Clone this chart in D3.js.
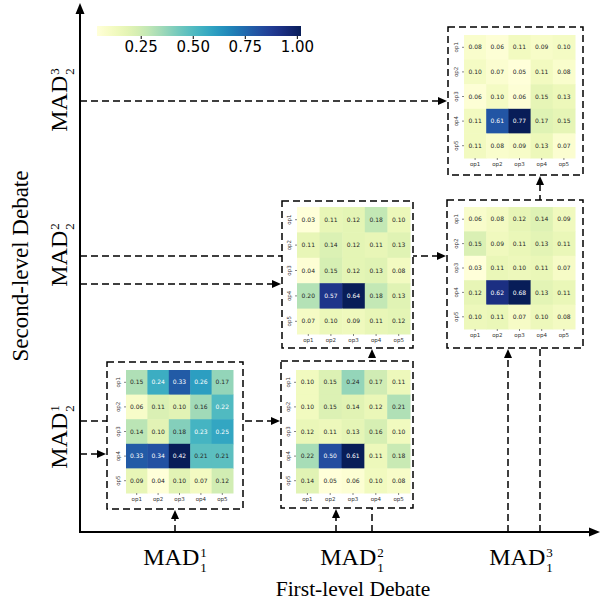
<!DOCTYPE html>
<html>
<head>
<meta charset="utf-8">
<script src="https://cdn.jsdelivr.net/npm/d3@7"></script>
<style>body{margin:0;background:#fff}</style>
</head>
<body>
<script>
// Chart size
const width = 600;
const height = 602;

// Data
const ops = ['op1', 'op2', 'op3', 'op4', 'op5'];

// rows = op1..op5, columns = op1..op5
const mad1_1 = [
  [0.15, 0.24, 0.33, 0.26, 0.17],
  [0.06, 0.11, 0.10, 0.16, 0.22],
  [0.14, 0.10, 0.18, 0.23, 0.25],
  [0.33, 0.34, 0.42, 0.21, 0.21],
  [0.09, 0.04, 0.10, 0.07, 0.12]
];
const mad2_1 = [
  [0.10, 0.15, 0.24, 0.17, 0.11],
  [0.10, 0.15, 0.14, 0.12, 0.21],
  [0.12, 0.11, 0.13, 0.16, 0.10],
  [0.22, 0.50, 0.61, 0.11, 0.18],
  [0.14, 0.05, 0.06, 0.10, 0.08]
];
const mad2_2 = [
  [0.03, 0.11, 0.12, 0.18, 0.10],
  [0.11, 0.14, 0.12, 0.11, 0.13],
  [0.04, 0.15, 0.12, 0.13, 0.08],
  [0.20, 0.57, 0.64, 0.18, 0.13],
  [0.07, 0.10, 0.09, 0.11, 0.12]
];
const mad3_2 = [
  [0.06, 0.08, 0.12, 0.14, 0.09],
  [0.15, 0.09, 0.11, 0.13, 0.11],
  [0.03, 0.11, 0.10, 0.11, 0.07],
  [0.12, 0.62, 0.68, 0.13, 0.11],
  [0.10, 0.11, 0.07, 0.10, 0.08]
];
const mad3_3 = [
  [0.08, 0.06, 0.11, 0.09, 0.10],
  [0.10, 0.07, 0.05, 0.11, 0.08],
  [0.06, 0.10, 0.06, 0.15, 0.13],
  [0.11, 0.61, 0.77, 0.17, 0.15],
  [0.11, 0.08, 0.09, 0.13, 0.07]
];

const colorbarDomain = [0.04, 1.02];
const colorbarTicks = [0.25, 0.50, 0.75, 1.00];

const levelIndex = ['1', '2', '3'];
const firstLevelTitle = 'First-level Debate';
const secondLevelTitle = 'Second-level Debate';

// Layout (pixel positions of each panel)
const panels = [
  { data: mad1_1, cells: [126, 370, 107, 123], box: [107, 362, 243, 509] },
  { data: mad2_1, cells: [296, 370, 114, 123], box: [281, 361, 413, 508] },
  { data: mad2_2, cells: [297, 207, 113, 127], box: [282, 201, 413, 348] },
  { data: mad3_2, cells: [464, 207, 111, 122], box: [447, 200, 583, 348] },
  { data: mad3_3, cells: [464, 35, 111, 123], box: [448, 27, 583, 175] }
];

const axisX = 80;
const axisY = 532;
const xLabelPos = [175, 352, 521];
const yLabelPos = [437, 255, 100];

// connectors: from y axis to a box edge, and from x axis to a box edge
const hLinks = [[101, 448], [256, 447], [284, 282], [421, 281], [454, 107]];
const vLinks = [[175, 509], [336, 508], [372, 348], [508, 348], [540, 175]];

const serif = '"Liberation Serif", "DejaVu Serif", serif';
const sans = '"DejaVu Sans", sans-serif';
const dash = '7,4';

const svg = d3.select('body')
  .append('svg')
  .attr('width', width)
  .attr('height', height);

// Dashed connectors (drawn first, panels cover them)
const links = svg.append('g');

function arrowHead(g, x, y, dir) {
  const L = 9, W = 4;
  let pts;
  if (dir === 'right') pts = [[x, y], [x - L, y - W], [x - L, y + W]];
  else pts = [[x, y], [x - W, y + L], [x + W, y + L]];
  g.append('path')
    .attr('d', d3.line()(pts) + 'Z')
    .attr('fill', '#000');
}

hLinks.forEach(([y, x1]) => {
  links.append('line')
    .attr('x1', axisX).attr('x2', x1 - 6)
    .attr('y1', y).attr('y2', y)
    .attr('stroke', '#000').attr('stroke-width', 1.5)
    .attr('stroke-dasharray', dash);
  arrowHead(links, x1 - 1, y, 'right');
});

vLinks.forEach(([x, y1]) => {
  links.append('line')
    .attr('x1', x).attr('x2', x)
    .attr('y1', axisY).attr('y2', y1 + 6)
    .attr('stroke', '#000').attr('stroke-width', 1.5)
    .attr('stroke-dasharray', dash);
  arrowHead(links, x, y1 + 1, 'up');
});

// Heatmaps
function luminance(c) {
  const rgb = d3.rgb(c);
  const f = v => {
    v /= 255;
    return v <= 0.03928 ? v / 12.92 : Math.pow((v + 0.055) / 1.055, 2.4);
  };
  return 0.2126 * f(rgb.r) + 0.7152 * f(rgb.g) + 0.0722 * f(rgb.b);
}

function drawHeatmap(p) {
  const g = svg.append('g');
  const [bx0, by0, bx1, by1] = p.box;
  g.append('rect')
    .attr('x', bx0).attr('y', by0)
    .attr('width', bx1 - bx0).attr('height', by1 - by0)
    .attr('fill', '#fff')
    .attr('stroke', '#000').attr('stroke-width', 1.5)
    .attr('stroke-dasharray', dash);

  const [cx, cy, cw, ch] = p.cells;
  const x = d3.scaleBand().domain(ops).range([cx, cx + cw]);
  const y = d3.scaleBand().domain(ops).range([cy, cy + ch]);
  const color = d3.scaleSequential(d3.interpolateYlGnBu)
    .domain(d3.extent(p.data.flat()));

  const cells = [];
  p.data.forEach((row, i) => row.forEach((v, j) => cells.push({ r: ops[i], c: ops[j], v })));

  g.selectAll('rect.cell')
    .data(cells)
    .enter()
    .append('rect')
    .attr('class', 'cell')
    .attr('x', d => x(d.c))
    .attr('y', d => y(d.r))
    .attr('width', x.bandwidth() + 0.5)
    .attr('height', y.bandwidth() + 0.5)
    .attr('fill', d => color(d.v));

  g.selectAll('text.annot')
    .data(cells)
    .enter()
    .append('text')
    .attr('class', 'annot')
    .attr('x', d => x(d.c) + x.bandwidth() / 2)
    .attr('y', d => y(d.r) + y.bandwidth() / 2)
    .attr('dy', '0.35em')
    .attr('text-anchor', 'middle')
    .attr('font-family', sans)
    .attr('font-size', 6)
    .attr('fill', d => luminance(color(d.v)) > 0.408 ? '#262626' : '#fff')
    .text(d => d.v.toFixed(2));

  const xAxis = g.append('g')
    .attr('transform', `translate(0,${cy + ch})`)
    .call(d3.axisBottom(x).tickSize(2).tickPadding(2));
  const yAxis = g.append('g')
    .attr('transform', `translate(${cx},0)`)
    .call(d3.axisLeft(y).tickSize(2).tickPadding(2));

  [xAxis, yAxis].forEach(a => {
    a.select('.domain').remove();
    a.selectAll('line').attr('stroke', '#333').attr('stroke-width', 0.6);
    a.selectAll('text')
      .attr('font-family', sans)
      .attr('font-size', 5.5)
      .attr('fill', '#333');
  });
  yAxis.selectAll('text')
    .attr('text-anchor', 'middle')
    .attr('x', null).attr('dy', null)
    .attr('transform', 'translate(-6,0) rotate(-90)');
}

panels.forEach(drawHeatmap);

// Main axes with arrowheads
svg.append('line')
  .attr('x1', axisX).attr('x2', axisX)
  .attr('y1', axisY + 1).attr('y2', 12)
  .attr('stroke', '#000').attr('stroke-width', 2);
svg.append('path')
  .attr('d', d3.line()([[axisX, 3], [axisX - 4.5, 14], [axisX + 4.5, 14]]) + 'Z')
  .attr('fill', '#000');
svg.append('line')
  .attr('x1', axisX - 1).attr('x2', 590)
  .attr('y1', axisY).attr('y2', axisY)
  .attr('stroke', '#000').attr('stroke-width', 2);
svg.append('path')
  .attr('d', d3.line()([[600, axisY], [589, axisY - 4.5], [589, axisY + 4.5]]) + 'Z')
  .attr('fill', '#000');

// MAD labels with stacked sub/superscripts, as one text element
function mathLabel(tx, ty, rot, sub, sup) {
  const outer = svg.append('g')
    .attr('transform', `translate(${tx},${ty}) rotate(${rot})`);
  const t = outer.append('text')
    .attr('font-family', serif)
    .attr('fill', '#000');
  t.append('tspan').attr('font-size', 24).text('MAD');
  const w = t.node().getComputedTextLength();
  t.append('tspan').attr('font-size', 13).attr('dx', 1).attr('dy', -8).text(sup);
  const s = t.append('tspan').attr('font-size', 13).attr('x', w + 1).attr('dy', 15).text(sub);
  const total = w + 1 + s.node().getComputedTextLength();
  t.attr('transform', `translate(${-total / 2},0)`);
}

levelIndex.forEach((k, i) => {
  mathLabel(xLabelPos[i], 565, 0, '1', k);
  mathLabel(67, yLabelPos[i], -90, '2', k);
});

svg.append('text')
  .attr('x', 353).attr('y', 596)
  .attr('text-anchor', 'middle')
  .attr('font-family', serif)
  .attr('font-size', 21.5)
  .text(firstLevelTitle);

svg.append('text')
  .attr('transform', 'translate(28,266) rotate(-90)')
  .attr('text-anchor', 'middle')
  .attr('font-family', serif)
  .attr('font-size', 23)
  .text(secondLevelTitle);

// Colorbar
const cbScale = d3.scaleLinear().domain(colorbarDomain).range([97, 301]);
const grad = svg.append('defs').append('linearGradient')
  .attr('id', 'cbgrad');
d3.range(0, 1.0001, 0.05).forEach(t => {
  grad.append('stop')
    .attr('offset', `${t * 100}%`)
    .attr('stop-color', d3.interpolateYlGnBu(t));
});
svg.append('rect')
  .attr('x', 97).attr('y', 26)
  .attr('width', 204).attr('height', 10)
  .attr('fill', 'url(#cbgrad)');

const cbAxis = svg.append('g')
  .attr('transform', 'translate(0,36)')
  .call(d3.axisBottom(cbScale)
    .tickValues(colorbarTicks)
    .tickFormat(d3.format('.2f'))
    .tickSize(3)
    .tickPadding(2));
cbAxis.select('.domain').remove();
cbAxis.selectAll('text')
  .attr('font-family', sans)
  .attr('font-size', 15)
  .attr('fill', '#000');
</script>
</body>
</html>
